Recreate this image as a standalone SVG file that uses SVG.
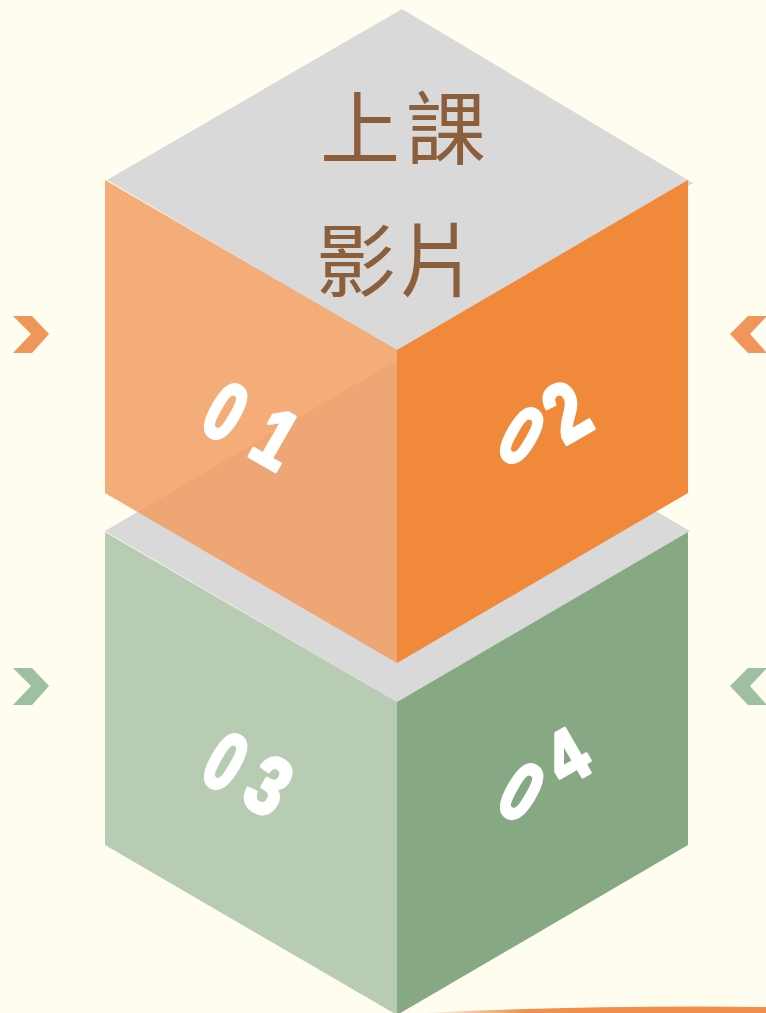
<svg xmlns="http://www.w3.org/2000/svg" width="766" height="1013" viewBox="0 0 766 1013">
  <defs>
    <style>
      .gray { fill: #D9D9D9; }
      .or-l { fill: #F29D61; fill-opacity: 0.84; }
      .or-r { fill: #F1893B; }
      .gr-l { fill: #B7CCB2; }
      .gr-r { fill: #86A983; }
      .chev-or { fill: #F0965A; }
      .chev-gr { fill: #9EBFA0; }
      .num { font-family: "Liberation Sans", Arial, sans-serif; font-weight: 700; font-size: 82px; fill: #FFFFFF; stroke: #FFFFFF; stroke-width: 4; stroke-linejoin: round; text-anchor: middle; }
      .title { font-family: "Noto Sans CJK TC", "Noto Sans CJK SC", sans-serif; font-size: 80px; fill: #8B5E3C; text-anchor: middle; }
    </style>
    <linearGradient id="swoosh" x1="0" y1="0" x2="1" y2="0">
      <stop offset="0" stop-color="#F0904C" stop-opacity="0"/>
      <stop offset="0.3" stop-color="#F0904C" stop-opacity="1"/>
      <stop offset="1" stop-color="#F0904C" stop-opacity="1"/>
    </linearGradient>
  </defs>

  <rect id="background" x="0" y="0" width="766" height="1013" fill="#FFFDF0"/>

  <g id="chevrons">
    <polygon class="chev-or" points="13,316 32,316 49,334 32,353 13,353 31,334"/>
    <polygon class="chev-or" points="730,334 748,316 767,316 750,334 767,353 748,353"/>
    <polygon class="chev-gr" points="13,668 32,668 49,686 32,705 13,705 31,686"/>
    <polygon class="chev-gr" points="730,686 748,668 767,668 750,686 767,705 748,705"/>
  </g>

  <g id="cube-bottom">
    <polygon class="gray" points="397,360 690,531 397,702 105,531"/>
    <polygon class="gr-l" points="105,532 397,702 397,1015 105,845"/>
    <polygon class="gr-r" points="397,702 688,532 688,845 397,1015"/>
  </g>

  <g id="cube-top">
    <polygon class="gray" points="402,9 693,183 397,351 107,180"/>
    <polygon class="or-l" points="105,180 397,350 397,663 105,493"/>
    <polygon class="or-r" points="397,350 688,180 688,493 397,663"/>
  </g>

  <g id="title">
    <text class="title" x="360 446" y="158">上課</text>
    <text class="title" x="356 438" y="290">影片</text>
  </g>

  <g id="label-01">
    <text class="num" x="0" y="29" transform="translate(226,411) rotate(30) scale(0.72,1)">0</text>
    <text class="num" x="0" y="29" transform="translate(276,438) rotate(30) scale(0.8,1)">1</text>
  </g>
  <g id="label-02">
    <text class="num" x="0" y="29" transform="translate(522,435) rotate(30) scale(0.72,1)">0</text>
    <text class="num" x="0" y="29" transform="translate(566,411) rotate(-30) scale(0.8,1)">2</text>
  </g>
  <g id="label-03">
    <text class="num" x="0" y="29" transform="translate(226,761) rotate(30) scale(0.72,1)">0</text>
    <text class="num" x="0" y="29" transform="translate(269,785) rotate(30) scale(0.8,1)">3</text>
  </g>
  <g id="label-04">
    <text class="num" x="0" y="29" transform="translate(522,791) rotate(30) scale(0.72,1)">0</text>
    <text class="num" x="0" y="26" transform="translate(568,758) rotate(-30) scale(0.8,0.9)">4</text>
  </g>

  <path id="swoosh-line" d="M 420 1013 Q 590 1005 766 1007 L 766 1013 Z" fill="url(#swoosh)"/>
</svg>
